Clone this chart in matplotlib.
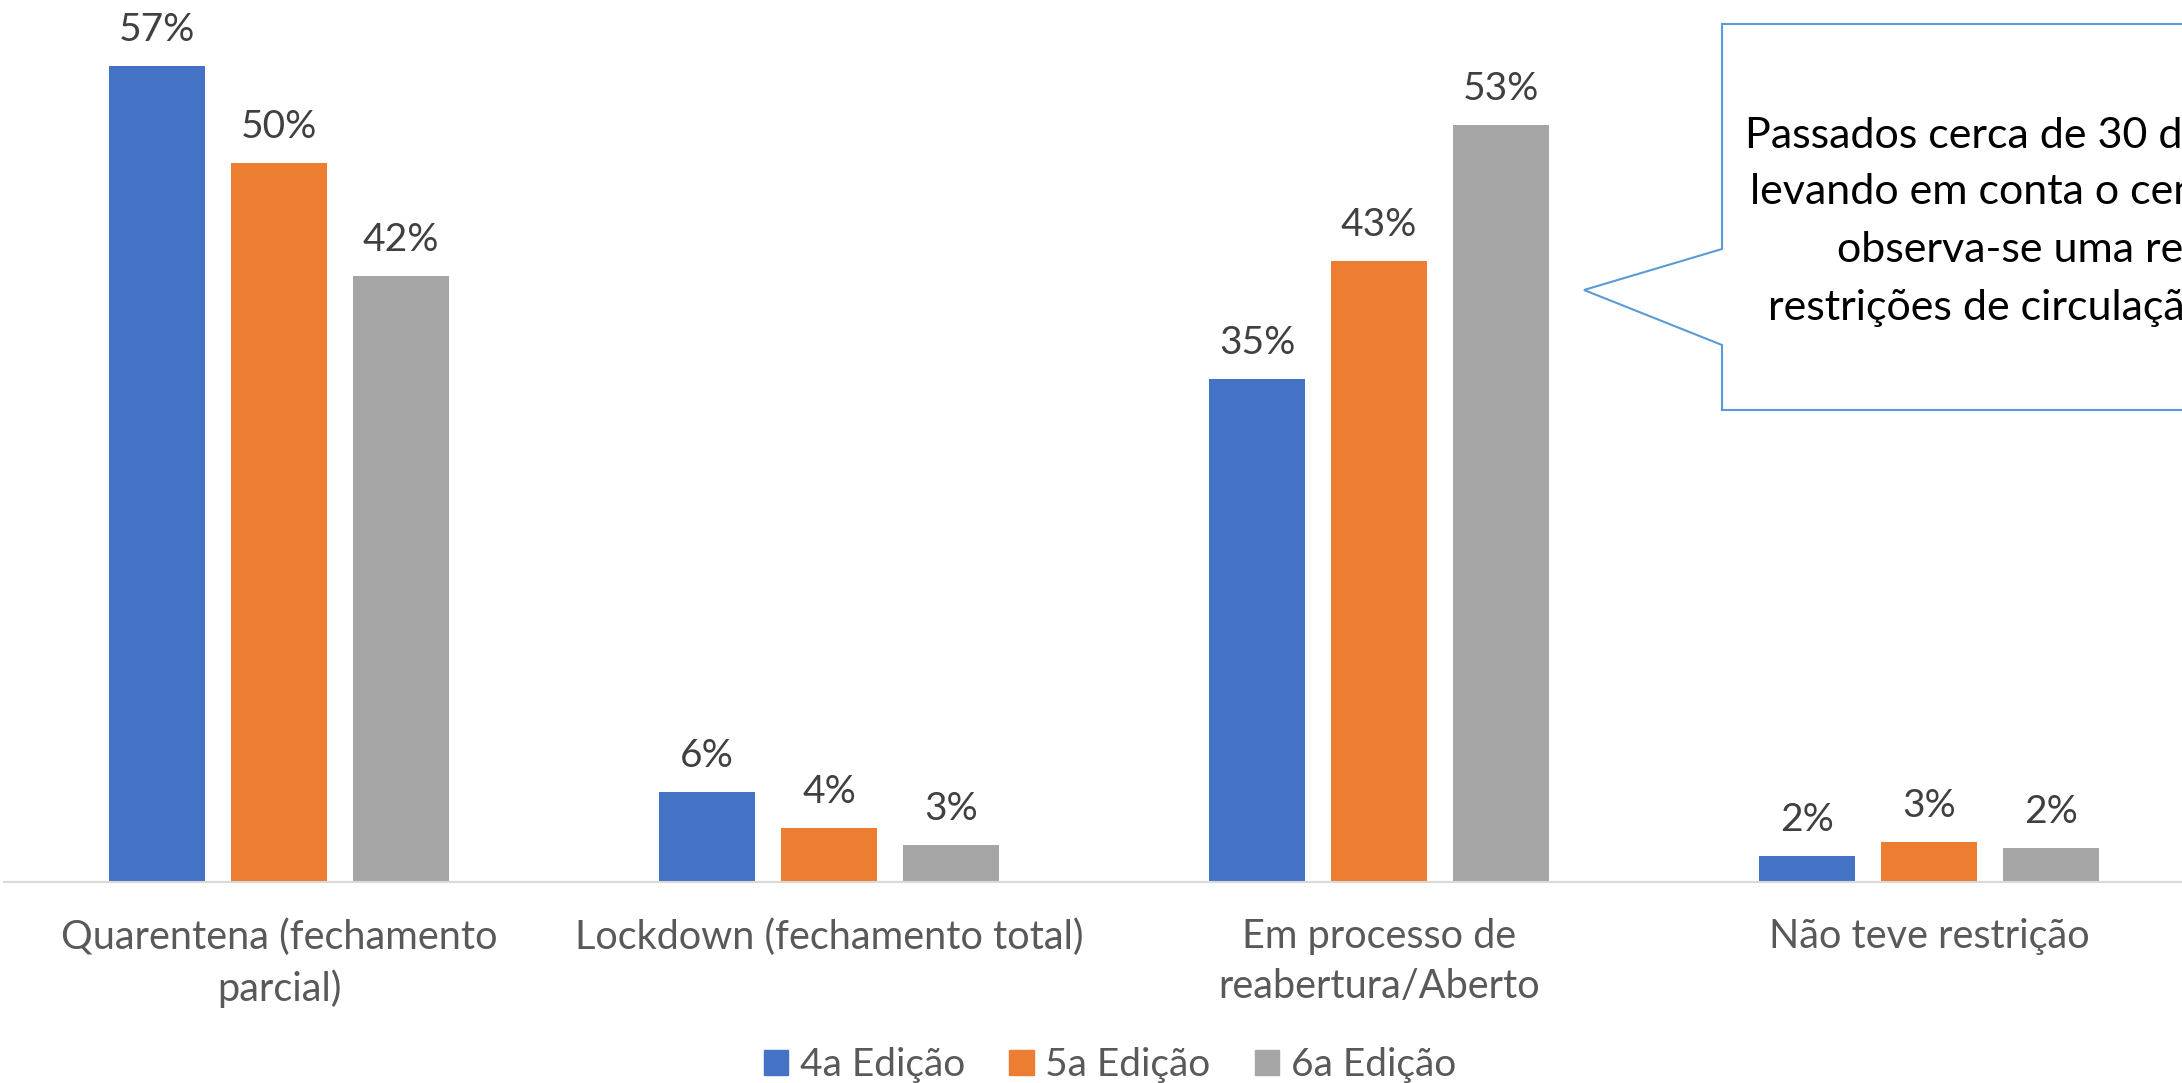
import numpy as np
import matplotlib
matplotlib.use("Agg")
import matplotlib.pyplot as plt
from matplotlib.patches import Polygon, Patch

plt.rcParams['font.family'] = ['Lato', 'DejaVu Sans']

# dados
categorias = ["Quarentena (fechamento\nparcial)", "Lockdown (fechamento total)",
              "Em processo de\nreabertura/Aberto", "Não teve restrição"]
edicoes = ["4a Edição", "5a Edição", "6a Edição"]
ed4 = [0.570, 0.063, 0.351, 0.018]
ed5 = [0.502, 0.038, 0.434, 0.028]
ed6 = [0.423, 0.026, 0.529, 0.024]
cores = ["#4472C4", "#ED7D31", "#A5A5A5"]

callout = ["Passados cerca de 30 dias,", "levando em conta o cenário",
           "observa-se uma redução", "restrições de circulação"]

W, H = 2182, 1083
fig = plt.figure(figsize=(W / 100, H / 100), dpi=100)
ax = fig.add_axes([4 / W, 201 / H, 1 - 4 / W, 882 / H])

x = np.arange(len(categorias))
larg = 0.1745
passo = 0.2218
for i, (vals, cor) in enumerate(zip([ed4, ed5, ed6], cores)):
    b = ax.bar(x + (i - 1) * passo, vals, larg, color=cor, zorder=2)
    ax.bar_label(b, labels=["%d%%" % round(v * 100) for v in vals],
                 padding=13, fontsize=28, color="#404040")

ax.set_xlim(-0.5, -0.5 + 2178 / 550)
ax.set_ylim(0, 0.616)
for s in ["top", "right", "left"]:
    ax.spines[s].set_visible(False)
ax.spines["bottom"].set_color("#D9D9D9")
ax.spines["bottom"].set_linewidth(1.5)
ax.set_yticks([])
ax.set_xticks(x)
ax.set_xticklabels(categorias, fontsize=28.5, color="#595959", linespacing=1.42)
ax.tick_params(axis="x", length=0, pad=26)

# legenda
handles = [Patch(color=c) for c in cores]
fig.legend(handles, edicoes, loc="center", ncol=3, frameon=False,
           bbox_to_anchor=(1110 / W, 1 - 1065 / H), fontsize=28,
           labelcolor="#595959", handlelength=0.62, handleheight=0.62,
           handletextpad=0.3, columnspacing=1.15)

# balão de texto
pts = [(1722, 24), (2210, 24), (2210, 410), (1722, 410), (1722, 345),
       (1584, 290), (1722, 249)]
pts = [(px / W, 1 - py / H) for px, py in pts]
fig.patches.append(Polygon(pts, closed=True, transform=fig.transFigure,
                           facecolor="white", edgecolor="#5B9BD5", linewidth=1.5))
xs = [1745, 1750, 1837, 1768]
ys = [147, 204, 262, 320]
for t, px, py in zip(callout, xs, ys):
    fig.text(px / W, 1 - py / H, t, fontsize=31, color="black",
             ha="left", va="baseline")

fig.savefig("out.png", dpi=100)
